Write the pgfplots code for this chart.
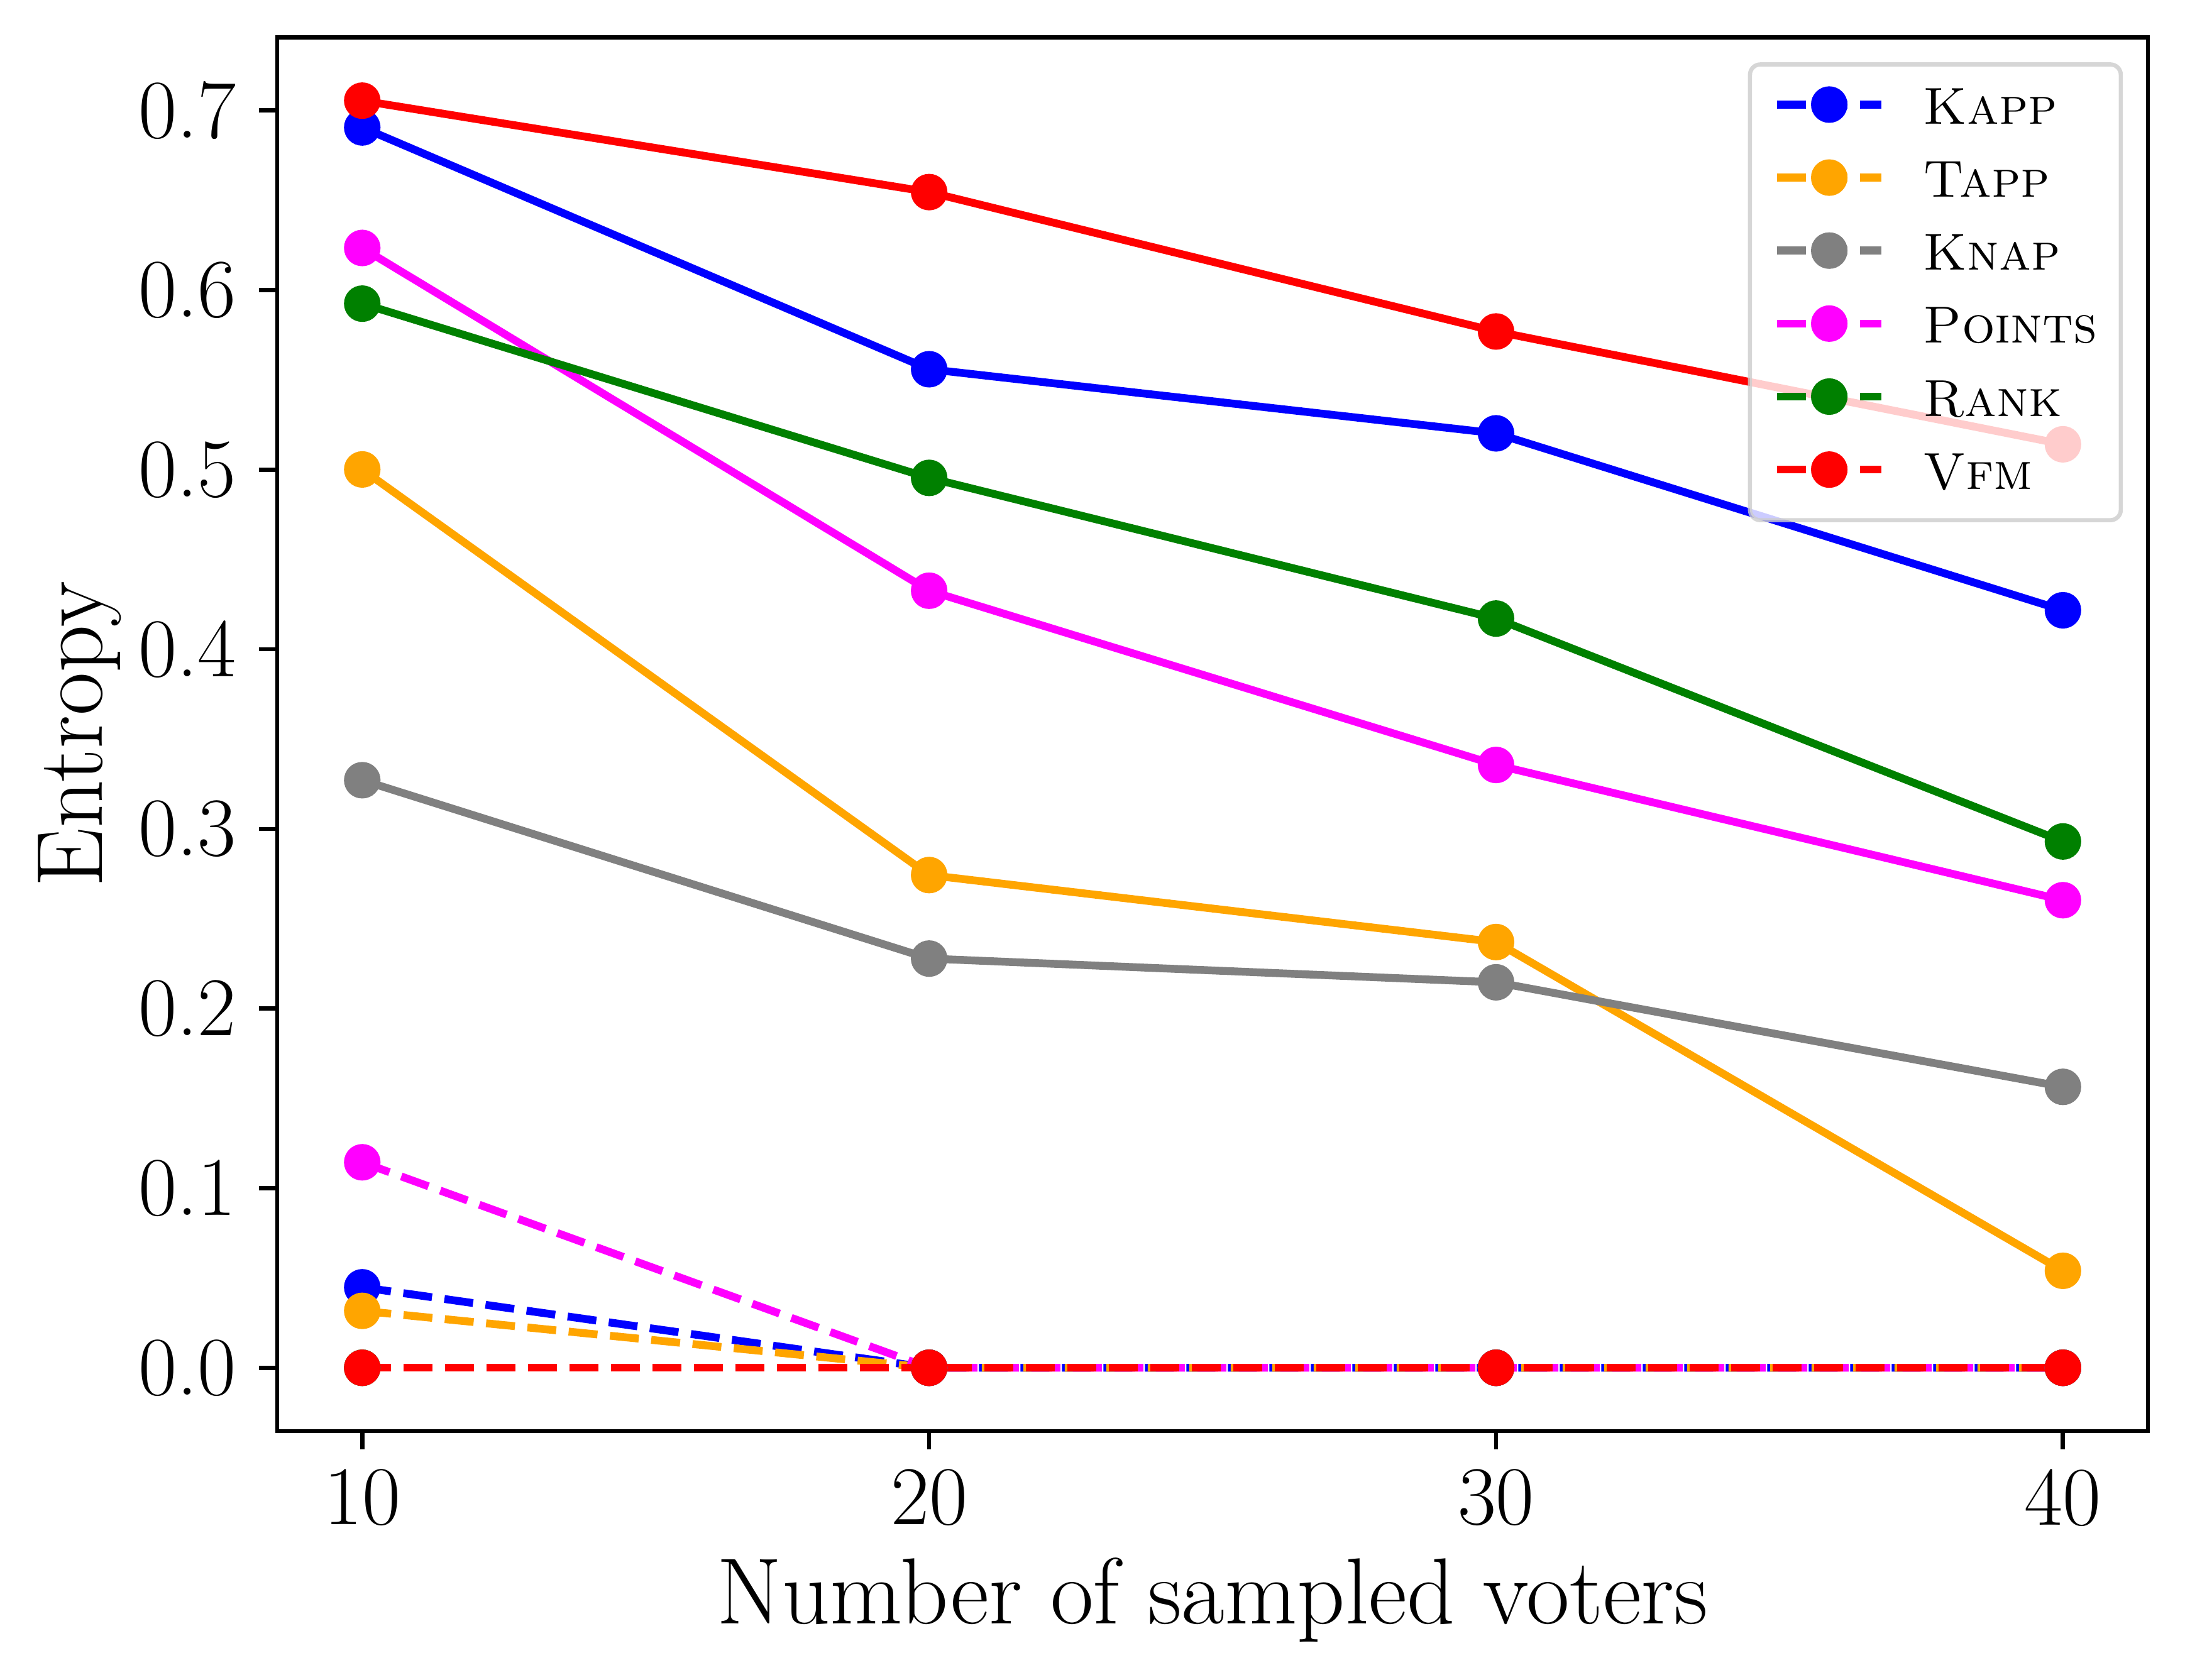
\documentclass[border=0pt]{standalone}
\usepackage{pgfplots}
\pgfplotsset{compat=1.18}
\definecolor{mplorange}{RGB}{255,165,0}
\definecolor{mplgreen}{RGB}{0,128,0}
\definecolor{mplgray}{RGB}{128,128,128}
\definecolor{mplmagenta}{RGB}{255,0,255}
\definecolor{mplblue}{RGB}{0,0,255}
\definecolor{mplred}{RGB}{255,0,0}
\begin{document}
\begin{tikzpicture}
\begin{axis}[
  scale only axis, width=358.47pt, height=267.12pt,
  xmin=8.5, xmax=41.5, ymin=-0.03527, ymax=0.74067,
  axis line style={line width=0.8pt},
  tick align=outside, tick pos=left, major tick length=3.5pt,
  every tick/.style={black, line width=0.8pt},
  xtick={10,20,30,40},
  ytick={0,0.1,0.2,0.3,0.4,0.5,0.6,0.7},
  /pgf/number format/assume math mode=true,
  tick label style={font=\fontsize{16}{19}\selectfont},
  yticklabel style={anchor=east, inner sep=0pt, /pgf/number format/fixed, /pgf/number format/fixed zerofill, /pgf/number format/precision=1},
  xticklabel style={anchor=north, inner sep=0pt},
  yticklabel shift=4.2pt,
  xticklabel shift=3.6pt,
  xlabel={Number of sampled voters},
  ylabel={Entropy},
  label style={font=\fontsize{18}{21}\selectfont},
  xlabel style={at={(axis description cs:0.5,-0.13799)}, anchor=base, inner sep=0pt},
  ylabel style={at={(axis description cs:-0.09345,0.5)}, anchor=base, inner sep=0pt, rotate=0},
  every axis plot/.append style={line width=1.5pt, mark=*, mark size=3pt, mark options={solid, line width=1pt}},
  legend image code/.code={
    \draw[#1, opacity=1, mark repeat=2, mark phase=2] plot coordinates {(0pt,1pt) (10pt,1pt) (20pt,1pt)};
    \path[draw=none, fill=none] (0pt,1pt) -- (28pt,1pt);
  },
  legend cell align=left,
  legend style={
    at={(axis description cs:1,1)}, xshift=-4.8pt, yshift=-4.8pt, anchor=north east,
    draw=black!20, draw opacity=0.8, line width=0.8pt, rounded corners=2pt,
    fill=white, fill opacity=0.8, text opacity=1,
    font=\fontsize{10}{12}\selectfont,
    inner xsep=4.45pt, inner ysep=3.5pt,
    row sep=3.6pt, column sep=0pt,
    nodes={inner sep=0pt, text height=7.93pt, text depth=2.46pt},
  },
]
\coordinate (ll) at (rel axis cs:0,0);
\coordinate (ur) at (rel axis cs:1,1);
% Kapp
\addplot[color=mplblue, solid, forget plot] coordinates {(10,0.6905) (20,0.5559) (30,0.5202) (40,0.4217)};
\addplot[color=mplblue, dash pattern=on 5.55pt off 2.4pt] coordinates {(10,0.0448) (20,0) (30,0) (40,0)};
\addlegendentry{\textsc{Kapp}}
% Tapp
\addplot[color=mplorange, solid, forget plot] coordinates {(10,0.5001) (20,0.2743) (30,0.2370) (40,0.0540)};
\addplot[color=mplorange, dash pattern=on 5.55pt off 2.4pt] coordinates {(10,0.0317) (20,0) (30,0) (40,0)};
\addlegendentry{\textsc{Tapp}}
% Knap
\addplot[color=mplgray, solid, forget plot] coordinates {(10,0.3271) (20,0.2278) (30,0.2146) (40,0.1564)};
\addplot[color=mplgray, dash pattern=on 5.55pt off 2.4pt] coordinates {(10,0) (20,0) (30,0) (40,0)};
\addlegendentry{\textsc{Knap}}
% Points
\addplot[color=mplmagenta, solid, forget plot] coordinates {(10,0.6234) (20,0.4326) (30,0.3356) (40,0.2603)};
\addplot[color=mplmagenta, dash pattern=on 5.55pt off 2.4pt] coordinates {(10,0.1144) (20,0) (30,0) (40,0)};
\addlegendentry{\textsc{Points}}
% Rank
\addplot[color=mplgreen, solid, forget plot] coordinates {(10,0.5924) (20,0.4954) (30,0.4171) (40,0.2930)};
\addplot[color=mplgreen, dash pattern=on 5.55pt off 2.4pt] coordinates {(10,0) (20,0) (30,0) (40,0)};
\addlegendentry{\textsc{Rank}}
% Vfm
\addplot[color=mplred, solid, forget plot] coordinates {(10,0.7054) (20,0.6545) (30,0.5769) (40,0.5141)};
\addplot[color=mplred, dash pattern=on 5.55pt off 2.4pt] coordinates {(10,0) (20,0) (30,0) (40,0)};
\addlegendentry{\textsc{Vfm}}
\end{axis}
\pgfresetboundingbox
\path ([shift={(-53.12pt,-47.58pt)}]ll) rectangle ([shift={(7.1pt,7.15pt)}]ur);
\end{tikzpicture}
\end{document}
